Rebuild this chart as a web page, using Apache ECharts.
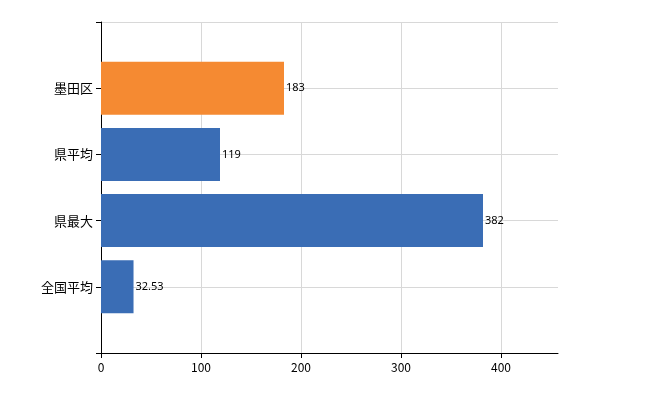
<!DOCTYPE html>
<html>
<head>
<meta charset="utf-8">
<script src="https://cdn.jsdelivr.net/npm/echarts@6/dist/echarts.min.js"></script>
</head>
<body style="margin:0">
<div id="chart" style="width:650px;height:400px"></div>
<script>
var categories = ['', '全国平均', '県最大', '県平均', '墨田区', ''];
var values = [null, 32.53, 382, 119, 183, null];
var barColors = ['#3a6db5', '#3a6db5', '#3a6db5', '#3a6db5', '#f58a32', '#3a6db5'];
var xTicks = [0, 100, 200, 300, 400];

var seriesData = [];
for (var i = 0; i < values.length; i++) {
    seriesData.push({value: values[i], itemStyle: {color: barColors[i]}});
}

var chart = echarts.init(document.getElementById('chart'));
var option = {
    animation: false,
    grid: {left: 101, right: 92, top: 22, bottom: 47},
    xAxis: {
        type: 'value',
        min: xTicks[0],
        max: 457,
        interval: 100,
        axisLine: {show: true, lineStyle: {color: '#000'}},
        axisTick: {show: true, length: 5, lineStyle: {color: '#000'}},
        axisLabel: {color: '#000', fontSize: 12, fontFamily: 'Noto Sans CJK JP', showMaxLabel: false},
        splitLine: {show: true, showMaxLine: false, lineStyle: {color: '#d8d8d8'}}
    },
    yAxis: {
        type: 'category',
        data: categories,
        boundaryGap: false,
        axisLine: {show: true, lineStyle: {color: '#000'}},
        axisTick: {show: true, length: 5, lineStyle: {color: '#000'}},
        axisLabel: {color: '#000', fontSize: 13, fontFamily: 'Noto Sans CJK JP', margin: 8},
        splitLine: {show: true, lineStyle: {color: '#d8d8d8'}}
    },
    series: [{
        type: 'bar',
        data: seriesData,
        barWidth: 53,
        label: {show: true, position: 'right', distance: 2, color: '#000', fontSize: 11, fontFamily: 'Noto Sans'}
    }]
};
chart.setOption(option);
</script>
</body>
</html>
